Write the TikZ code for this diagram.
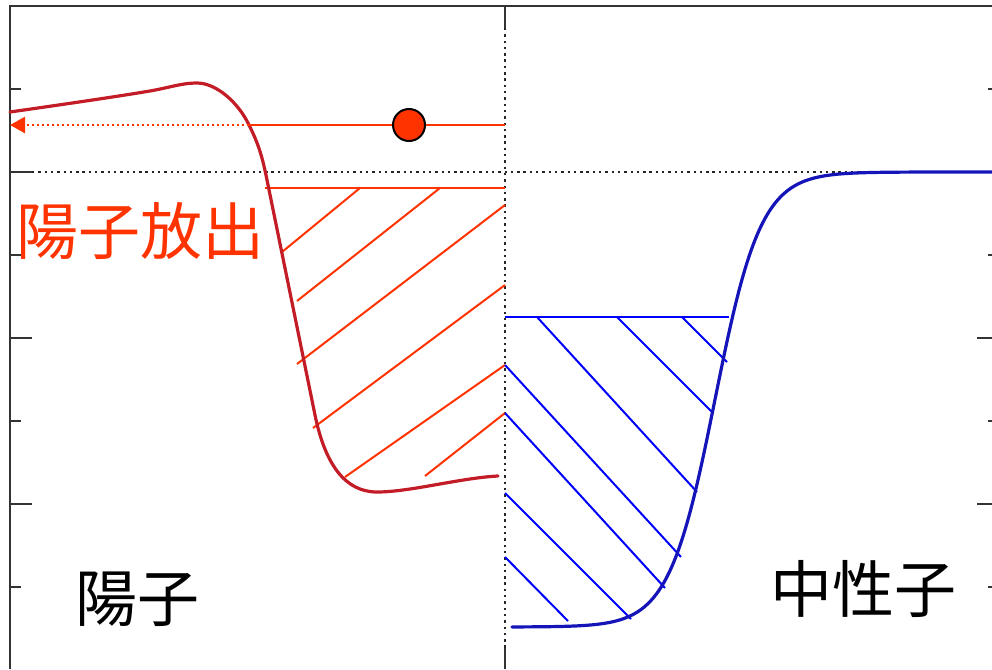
\documentclass[tikz,border=0pt]{standalone}
\usepackage{fontspec}
\newfontfamily\jpfont{Noto Sans CJK JP}
\usetikzlibrary{arrows.meta}
\definecolor{emitred}{RGB}{255,51,0}
\definecolor{protonred}{RGB}{195,28,38}
\definecolor{neutronblue}{RGB}{20,20,185}
\definecolor{fermiblue}{RGB}{0,0,255}
\tikzset{
  axisline/.style={draw=black!80, line width=1.8pt},
  axisdots/.style={draw=black!85, line width=2.4pt, dash pattern=on 2.4pt off 3.9pt},
  wellcurve/.style={line width=3.2pt, line cap=round},
  hatchline/.style={line width=2pt},
  emitdots/.style={draw=emitred, line width=2.4pt, dash pattern=on 2.4pt off 2.6pt},
  ballnode/.style={circle, draw=black, fill=emitred, line width=2pt, minimum size=32pt, inner sep=0pt},
  labeltext/.style={font=\jpfont\fontsize{62}{62}\selectfont, inner sep=0pt, anchor=base west}
}
\begin{document}
\begin{tikzpicture}[x=1pt, y=-1pt]
  \useasboundingbox (0,0) rectangle (992,669);

  % frame and ticks
  \draw[axisline] (10,669) -- (10,6) -- (992,6);
  \foreach \t in {172,338,504} {
    \draw[axisline] (10,\t) -- (32,\t);
    \draw[axisline] (977,\t) -- (992,\t);
  }
  \foreach \t in {89,255,421,587} {
    \draw[axisline] (10,\t) -- (21,\t);
    \draw[axisline] (988,\t) -- (992,\t);
  }
  \draw[axisline] (505,6) -- (505,28);
  \draw[axisline] (505,648) -- (505,669);
  \draw[axisdots] (505,28) -- (505,648);
  \draw[axisdots] (32,172) -- (992,172);

  % proton side
  \draw[hatchline, emitred] (265,188) -- (505,188);
  \draw[hatchline, emitred] (282,252) -- (360,188);
  \draw[hatchline, emitred] (297,301) -- (440,188);
  \draw[hatchline, emitred] (297,364) -- (505,205);
  \draw[hatchline, emitred] (313,428) -- (505,285);
  \draw[hatchline, emitred] (345,477) -- (505,365);
  \draw[hatchline, emitred] (425,476) -- (505,413);
  \draw[wellcurve, protonred] (10,112)
    .. controls (80,102) and (120,96) .. (150,91)
    .. controls (172,87) and (182,83) .. (197,83)
    .. controls (216,83) and (238,102) .. (249,125)
    .. controls (258,143) and (262,155) .. (267,180)
    -- (315,415)
    .. controls (325,464) and (345,492) .. (377,492)
    .. controls (410,492) and (460,478) .. (498,476);

  % neutron side
  \draw[hatchline, fermiblue] (505,317) -- (729,317);
  \draw[hatchline, fermiblue] (537,317) -- (697,492);
  \draw[hatchline, fermiblue] (617,317) -- (712,412);
  \draw[hatchline, fermiblue] (682,317) -- (727,362);
  \draw[hatchline, fermiblue] (505,365) -- (681,557);
  \draw[hatchline, fermiblue] (505,413) -- (665,588);
  \draw[hatchline, fermiblue] (505,493) -- (631,619);
  \draw[hatchline, fermiblue] (505,557) -- (568,621);
  \draw[wellcurve, neutronblue] plot[domain=512:992, samples=240]
    (\x, {172+455/(1+exp(min((\x-715)/23,9)))});

  % emitted proton
  \coordinate (emitR) at (505,125);
  \coordinate (emitX) at (249,125);
  \coordinate (emitL) at (10,125);
  \draw[hatchline, emitred] (emitR) -- (emitX);
  \draw[emitdots, -{Triangle[length=15pt, width=16pt]}] (emitX) -- (emitL);
  \node[ballnode] (ball) at (409,125) {};

  % labels
  \node[labeltext, text=emitred] (labelEmit) at (16,254) {陽子放出};
  \node[labeltext] (labelProton) at (75,621) {陽子};
  \node[labeltext] (labelNeutron) at (770,612) {中性子};
\end{tikzpicture}
\end{document}
